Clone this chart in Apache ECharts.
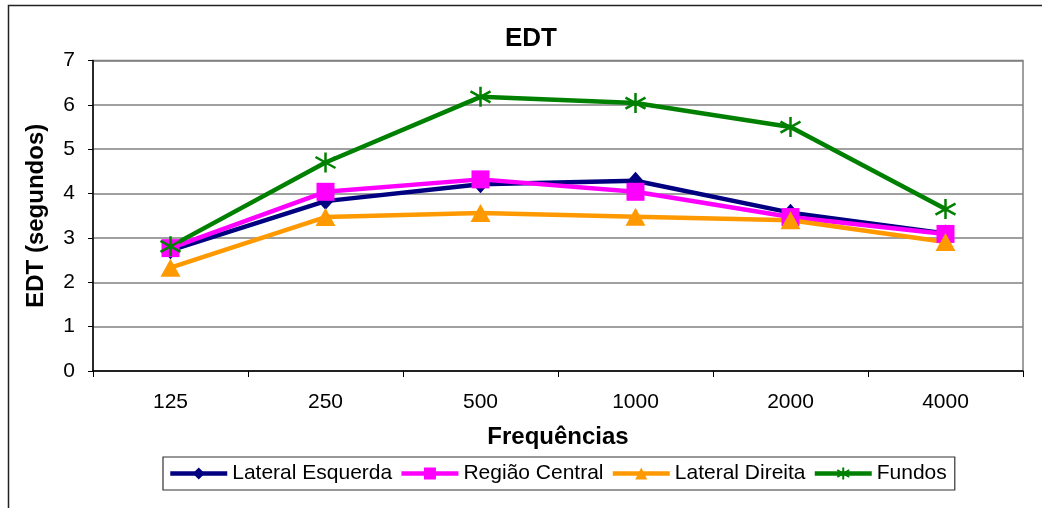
<!DOCTYPE html>
<html>
<head>
<meta charset="utf-8">
<script src="https://cdn.jsdelivr.net/npm/echarts@6/dist/echarts.min.js"></script>
<style>
  html, body { margin: 0; padding: 0; background: #fff; }
  #chart { width: 1042px; height: 508px; }
</style>
</head>
<body>
<div id="chart"></div>
<script>
// Octave-band centre frequencies (Hz)
const frequencias = ['125', '250', '500', '1000', '2000', '4000'];

// Early decay time (s) per listening zone
const lateralEsquerda = [2.72, 3.83, 4.21, 4.29, 3.57, 3.10];
const regiaoCentral   = [2.77, 4.04, 4.32, 4.04, 3.47, 3.09];
const lateralDireita  = [2.33, 3.47, 3.56, 3.48, 3.40, 2.91];
const fundos          = [2.81, 4.70, 6.18, 6.04, 5.50, 3.65];

const FONT = "'Liberation Sans', Arial, sans-serif";
const STAR = 'path://M10,0L10,20M1.5,4.5L18.5,15.5M1.5,15.5L18.5,4.5';

function serie(name, data, color, symbol, size, extra) {
  return Object.assign({
    name: name,
    type: 'line',
    data: data,
    symbol: symbol,
    symbolSize: size,
    showAllSymbol: true,
    lineStyle: { color: color, width: 4.5 },
    itemStyle: { color: color },
    emphasis: { disabled: true },
    animation: false
  }, extra || {});
}

const chart = echarts.init(document.getElementById('chart'), null, { renderer: 'canvas' });
chart.setOption({
  backgroundColor: '#ffffff',
  textStyle: { fontFamily: FONT },
  title: {
    text: 'EDT',
    left: 526,
    textAlign: 'center',
    top: 21,
    textStyle: { fontFamily: FONT, fontSize: 26, fontWeight: 'bold', color: '#000' }
  },
  graphic: [{
    type: 'rect',
    shape: { x: 8.5, y: 5.5, width: 1100, height: 600 },
    style: { fill: 'none', stroke: '#222', lineWidth: 1.5 },
    silent: true,
    z: 100
  }],
  grid: {
    left: 93, right: 19, top: 60.5, bottom: 137,
    show: true, borderColor: '#808080', borderWidth: 1.5, backgroundColor: '#fff'
  },
  legend: {
    left: 163, top: 457,
    padding: [6, 8, 6, 5],
    borderColor: '#333', borderWidth: 1.2,
    itemWidth: 57, itemHeight: 15, itemGap: 7,
    lineStyle: { width: 4.5 },
    textStyle: { fontFamily: FONT, fontSize: 21, color: '#000' },
    data: ['Lateral Esquerda', 'Região Central', 'Lateral Direita', 'Fundos']
  },
  xAxis: {
    type: 'category',
    data: frequencias,
    boundaryGap: true,
    name: 'Frequências',
    nameLocation: 'middle',
    nameGap: 54,
    nameTextStyle: { fontFamily: FONT, fontSize: 24, fontWeight: 'bold', color: '#000', verticalAlign: 'top' },
    axisLine: { lineStyle: { color: '#000', width: 1.5 } },
    axisTick: { show: true, length: 6, lineStyle: { color: '#000', width: 1 } },
    axisLabel: { margin: 21, fontFamily: FONT, fontSize: 21, color: '#000' },
    splitLine: { show: false }
  },
  yAxis: {
    type: 'value',
    min: 0, max: 7, interval: 1,
    name: 'EDT (segundos)',
    nameLocation: 'middle',
    nameGap: 45,
    nameRotate: 90,
    nameTextStyle: { fontFamily: FONT, fontSize: 24, fontWeight: 'bold', color: '#000' },
    axisLine: { show: true, lineStyle: { color: '#000', width: 1.5 } },
    axisTick: { show: true, length: 5, lineStyle: { color: '#000', width: 1 } },
    axisLabel: { margin: 18, fontFamily: FONT, fontSize: 21, color: '#000' },
    splitLine: { show: true, lineStyle: { color: '#808080', width: 1.5 } }
  },
  series: [
    serie('Lateral Esquerda', lateralEsquerda, '#000080', 'diamond', [16, 18]),
    serie('Região Central', regiaoCentral, '#ff00ff', 'rect', 18),
    serie('Lateral Direita', lateralDireita, '#ff9900', 'triangle', [20, 18]),
    serie('Fundos', fundos, '#008000', STAR, 20, {
      itemStyle: { color: 'none', borderColor: '#008000', borderWidth: 2.5 }
    })
  ]
});
</script>
</body>
</html>
